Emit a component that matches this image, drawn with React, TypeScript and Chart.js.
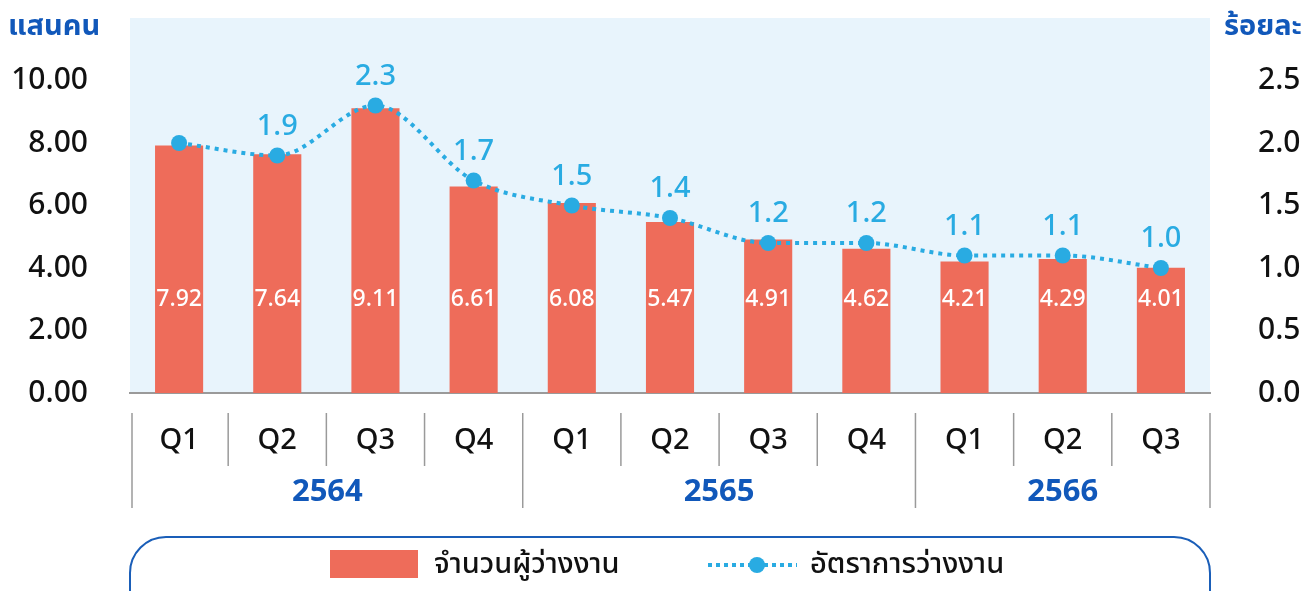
import React, { useEffect, useRef } from "react";
import { Chart, registerables } from "chart.js";

Chart.register(...registerables);

const quarters = ["Q1", "Q2", "Q3", "Q4", "Q1", "Q2", "Q3", "Q4", "Q1", "Q2", "Q3"];
const years = ["2564", "2565", "2566"];
const yearSpans = [4, 4, 3];
const unemployed = [7.92, 7.64, 9.11, 6.61, 6.08, 5.47, 4.91, 4.62, 4.21, 4.29, 4.01];
const rate = [2.0, 1.9, 2.3, 1.7, 1.5, 1.4, 1.2, 1.2, 1.1, 1.1, 1.0];
const rateLabels = ["", "1.9", "2.3", "1.7", "1.5", "1.4", "1.2", "1.2", "1.1", "1.1", "1.0"];
const leftTitle = "แสนคน";
const rightTitle = "ร้อยละ";
const barLegend = "จำนวนผู้ว่างงาน";
const lineLegend = "อัตราการว่างงาน";

const FONT = "'Noto Sans', 'Noto Sans Thai', sans-serif";
const BAR_COLOR = "#EE6C5A";
const LINE_COLOR = "#29ABE2";
const DARK_BLUE = "#1158BA";
const BG = "#E8F4FC";

export default function App() {
  const ref = useRef<HTMLCanvasElement | null>(null);

  useEffect(() => {
    document.body.style.margin = "0";
    const canvas = ref.current!;

    const bgPlugin = {
      id: "bgPlugin",
      beforeDraw(chart: any) {
        const { ctx, chartArea } = chart;
        ctx.save();
        ctx.fillStyle = BG;
        ctx.fillRect(chartArea.left, chartArea.top, chartArea.right - chartArea.left, chartArea.bottom - chartArea.top);
        ctx.restore();
      },
    };

    const decor = {
      id: "decor",
      afterDraw(chart: any) {
        const { ctx, chartArea } = chart;
        const xs = chart.scales.x;
        const yl = chart.scales.y;
        ctx.save();

        // bar value labels
        const barMeta = chart.getDatasetMeta(0);
        ctx.font = `500 23px ${FONT}`;
        ctx.fillStyle = "#ffffff";
        ctx.textAlign = "center";
        ctx.textBaseline = "middle";
        barMeta.data.forEach((bar: any, i: number) => {
          ctx.fillText(unemployed[i].toFixed(2), bar.x, yl.getPixelForValue(3));
        });

        // line labels
        const lineMeta = chart.getDatasetMeta(1);
        ctx.font = `500 29px ${FONT}`;
        ctx.fillStyle = LINE_COLOR;
        lineMeta.data.forEach((pt: any, i: number) => {
          if (rateLabels[i]) ctx.fillText(rateLabels[i], pt.x, pt.y - 29);
        });

        // axis titles
        ctx.font = `bold 29px ${FONT}`;
        ctx.fillStyle = DARK_BLUE;
        ctx.textAlign = "left";
        ctx.fillText(leftTitle, 8, 27);
        ctx.textAlign = "right";
        ctx.fillText(rightTitle, 1302, 27);

        // x axis separators & labels
        const n = quarters.length;
        const boundary = (i: number) => {
          if (i === 0) return chartArea.left + 2;
          if (i === n) return chartArea.right;
          return (xs.getPixelForValue(i - 1) + xs.getPixelForValue(i)) / 2;
        };
        const longB = [0];
        let acc = 0;
        yearSpans.forEach((s) => { acc += s; longB.push(acc); });
        ctx.strokeStyle = "#9a9a9a";
        ctx.lineWidth = 1.5;
        for (let i = 0; i <= n; i++) {
          const bx = boundary(i);
          const isLong = longB.includes(i);
          ctx.beginPath();
          ctx.moveTo(bx, chartArea.bottom + 20);
          ctx.lineTo(bx, chartArea.bottom + (isLong ? 115 : 73));
          ctx.stroke();
        }
        ctx.font = `500 29px ${FONT}`;
        ctx.fillStyle = "#111111";
        ctx.textAlign = "center";
        quarters.forEach((q, i) => {
          ctx.fillText(q, xs.getPixelForValue(i), chartArea.bottom + 48);
        });
        ctx.font = `bold 31px ${FONT}`;
        ctx.fillStyle = DARK_BLUE;
        let start = 0;
        years.forEach((yv, k) => {
          const a = boundary(start);
          const b = boundary(start + yearSpans[k]);
          ctx.fillText(yv, (a + b) / 2, chartArea.bottom + 99);
          start += yearSpans[k];
        });

        // legend box
        const lx = chartArea.left, lw = chartArea.right - chartArea.left;
        const ly = 537, lh = 90, r = 36;
        ctx.strokeStyle = "#1A5EB8";
        ctx.lineWidth = 2;
        ctx.beginPath();
        ctx.roundRect(lx, ly, lw, lh, r);
        ctx.stroke();
        ctx.fillStyle = BAR_COLOR;
        ctx.fillRect(330, 550, 88, 28);
        ctx.font = `500 29px ${FONT}`;
        ctx.fillStyle = "#111111";
        ctx.textAlign = "left";
        ctx.fillText(barLegend, 434, 565);
        ctx.strokeStyle = LINE_COLOR;
        ctx.lineWidth = 4;
        ctx.setLineDash([4, 4]);
        ctx.beginPath();
        ctx.moveTo(708, 565);
        ctx.lineTo(797, 565);
        ctx.stroke();
        ctx.setLineDash([]);
        ctx.fillStyle = LINE_COLOR;
        ctx.beginPath();
        ctx.arc(757, 565, 8, 0, Math.PI * 2);
        ctx.fill();
        ctx.fillStyle = "#111111";
        ctx.fillText(lineLegend, 810, 565);

        ctx.restore();
      },
    };

    const noPad = (scale: any, w: number) => {
      scale.width = w;
      scale.paddingTop = 0;
      scale.paddingBottom = 0;
    };

    const chart = new Chart(canvas, {
      type: "bar",
      data: {
        labels: quarters,
        datasets: [
          {
            type: "bar",
            label: barLegend,
            data: unemployed,
            backgroundColor: BAR_COLOR,
            barPercentage: 0.49,
            categoryPercentage: 1,
            yAxisID: "y",
            order: 2,
          },
          {
            type: "line",
            label: lineLegend,
            data: rate,
            borderColor: LINE_COLOR,
            backgroundColor: LINE_COLOR,
            borderWidth: 4,
            borderDash: [4, 5],
            pointRadius: 8,
            pointHoverRadius: 8,
            pointBackgroundColor: LINE_COLOR,
            pointBorderWidth: 0,
            tension: 0.4,
            cubicInterpolationMode: "monotone",
            yAxisID: "y1",
            order: 1,
          } as any,
        ],
      },
      options: {
        animation: false,
        responsive: true,
        maintainAspectRatio: false,
        layout: { padding: { top: 18, left: 0, right: 0, bottom: 0 } },
        plugins: {
          legend: { display: false },
          tooltip: { enabled: false },
        },
        scales: {
          x: {
            offset: true,
            grid: { display: false, drawTicks: false },
            border: { display: true, color: "#9a9a9a", width: 2 },
            ticks: { display: false },
            afterFit(scale: any) { scale.height = 198; },
          },
          y: {
            position: "left",
            min: 0,
            max: 12,
            grid: { display: false, drawTicks: false },
            border: { display: false },
            ticks: {
              stepSize: 2,
              padding: 42,
              color: "#111111",
              font: { family: FONT, size: 30, weight: 500 },
              callback: (v: any) => (Number(v) > 10 ? "" : Number(v).toFixed(2)),
            },
            afterFit(scale: any) { noPad(scale, 130); },
          },
          y1: {
            position: "right",
            min: 0,
            max: 3,
            grid: { display: false, drawTicks: false },
            border: { display: false },
            ticks: {
              stepSize: 0.5,
              padding: 48,
              color: "#111111",
              font: { family: FONT, size: 30, weight: 500 },
              callback: (v: any) => (Number(v) > 2.5 ? "" : Number(v).toFixed(1)),
            },
            afterFit(scale: any) { noPad(scale, 93); },
          },
        },
      },
      plugins: [bgPlugin, decor],
    });

    return () => chart.destroy();
  }, []);

  return (
    <div style={{ position: "absolute", left: 0, top: 0, width: 1303, height: 591 }}>
      <canvas ref={ref} />
    </div>
  );
}
